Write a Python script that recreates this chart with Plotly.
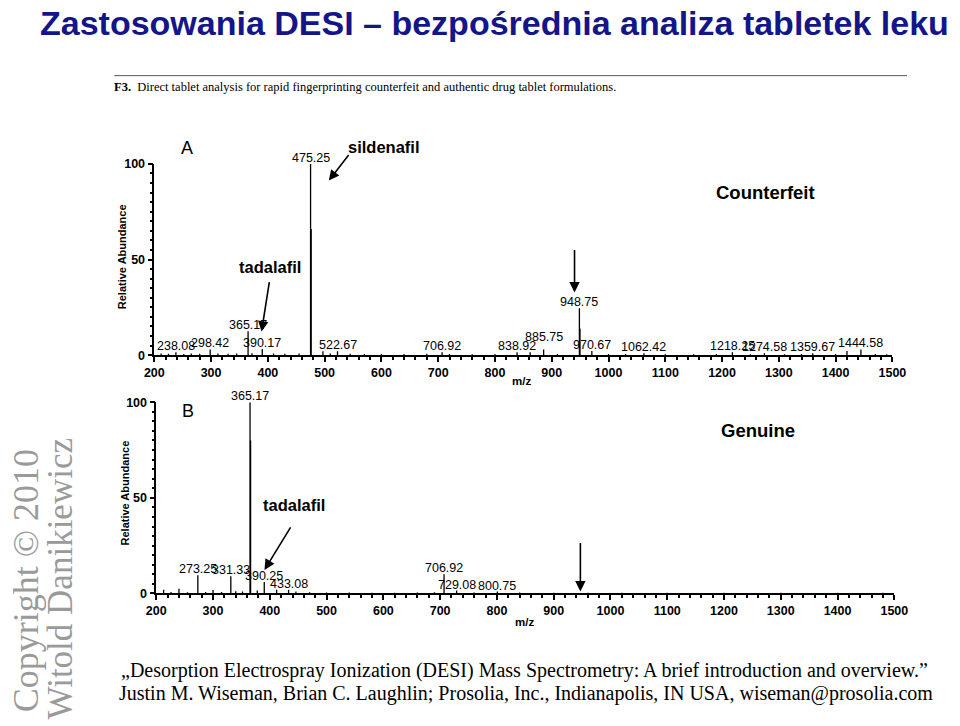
import plotly.graph_objects as go

# ---------------- data ----------------
# Panel A (Counterfeit) stick spectrum: m/z, relative abundance
mz_a = [212, 225, 238.08, 252, 265, 280, 298.42, 312, 330, 345, 365.17, 372, 390.17, 410, 430,
        455, 475.25, 476.25, 497.0, 510, 522.67, 545, 570, 600, 640, 680, 706.92, 720, 760, 800,
        838.92, 862.0, 885.75, 910, 948.75, 949.75, 970.67, 1000, 1030, 1062.42, 1100, 1150,
        1190, 1218.25, 1250, 1274.58, 1310, 1340, 1359.67, 1400, 1420.0, 1444.58, 1470, 1490]
int_a = [0.8, 0.7, 1.5, 0.6, 0.8, 0.7, 3.0, 0.8, 0.7, 0.9, 12.5, 1.0, 3.2, 0.8, 0.7,
         0.9, 100, 66, 2.0, 0.8, 2.0, 0.7, 0.6, 0.6, 0.6, 0.7, 1.5, 0.6, 0.5, 0.6,
         1.5, 1.5, 3.0, 0.6, 24.5, 14, 2.2, 0.6, 0.6, 1.0, 0.5, 0.5,
         0.6, 1.5, 0.5, 1.0, 0.5, 0.6, 1.0, 0.6, 2.2, 3.0, 0.6, 0.5]
lab_a = ["238.08", "298.42", "365.17", "390.17", "475.25", "522.67", "706.92", "838.92",
         "885.75", "948.75", "970.67", "1062.42", "1218.25", "1274.58", "1359.67", "1444.58"]

# Panel B (Genuine) stick spectrum
mz_b = [213, 226, 240, 255, 273.25, 287, 300, 315, 331.33, 340, 352, 365.17, 366.17, 378,
        390.25, 412, 433.08, 446, 470, 500, 540, 580, 620, 660, 690, 706.92, 729.08, 760,
        800.75, 840, 900, 960, 1020, 1100, 1200, 1300, 1400, 1480]
int_b = [2.0, 0.8, 2.5, 0.7, 9.5, 0.8, 1.8, 0.8, 9.0, 1.2, 1.0, 100, 80, 1.5,
         6.0, 2.0, 2.0, 1.0, 0.6, 0.5, 0.5, 0.4, 0.4, 0.5, 0.6, 10.0, 1.5, 0.5,
         1.0, 0.5, 0.4, 0.4, 0.4, 0.4, 0.4, 0.4, 0.4, 0.4]
lab_b = ["273.25", "331.33", "365.17", "390.25", "433.08", "706.92", "729.08", "800.75"]

x_ticks = list(range(200, 1501, 100))
y_ticks = [0, 50, 100]

# ---------------- helpers ----------------
W, H = 960, 726
def px(x):
    return x / W
def py(y):
    return 1 - y / H

SANS = "Arial, Liberation Sans, sans-serif"
SERIF = "Times New Roman, Liberation Serif, serif"

# extra vertical offsets (px) for a few labels, as in the original layout
label_shift = {"885.75": 6}

def sticks(mz, inten):
    xs, ys = [], []
    for m, v in zip(mz, inten):
        xs += [m, m, None]
        ys += [0, v, None]
    return xs, ys

fig = go.Figure()
xa, ya = sticks(mz_a, int_a)
xb, yb = sticks(mz_b, int_b)
fig.add_trace(go.Scatter(x=xa, y=ya, mode="lines", line=dict(color="black", width=1.3),
                         xaxis="x", yaxis="y", showlegend=False, hoverinfo="skip"))
fig.add_trace(go.Scatter(x=xb, y=yb, mode="lines", line=dict(color="black", width=1.3),
                         xaxis="x2", yaxis="y2", showlegend=False, hoverinfo="skip"))

def xaxis_style(domain, anchor):
    return dict(domain=domain, anchor=anchor, range=[200, 1500], showline=True,
                linecolor="black", linewidth=2, ticks="outside", ticklen=5, tickwidth=1.5,
                tickcolor="black", tickvals=x_ticks, showgrid=False, zeroline=False,
                tickfont=dict(family=SANS, size=12.5, color="black", weight="bold"),
                minor=dict(dtick=20, ticks="outside", ticklen=3, tickcolor="black"))

def yaxis_style(domain, anchor):
    return dict(domain=domain, anchor=anchor, range=[0, 100], showline=True,
                linecolor="black", linewidth=1.5, ticks="outside", ticklen=5, tickwidth=1.5,
                tickcolor="black", tickvals=y_ticks, showgrid=False, zeroline=False,
                tickfont=dict(family=SANS, size=12.5, color="black", weight="bold"),
                minor=dict(dtick=5, ticks="outside", ticklen=3, tickcolor="black"))

fig.update_layout(
    width=W, height=H, margin=dict(l=0, r=0, t=0, b=0),
    paper_bgcolor="white", plot_bgcolor="white", showlegend=False,
    xaxis=xaxis_style([px(148), px(905)], "y"),
    yaxis=yaxis_style([py(355), py(160)], "x"),
    xaxis2=xaxis_style([px(150), px(907)], "y2"),
    yaxis2=yaxis_style([py(598), py(403)], "x2"),
)

ann = []
def peak_labels(mz, inten, labels, xr, yr):
    lookup = {f"{m:.2f}": v for m, v in zip(mz, inten)}
    for lab in labels:
        v = lookup[lab]
        ann.append(dict(x=float(lab), y=v, xref=xr, yref=yr, text=lab, showarrow=False,
                        yanchor="bottom", xanchor="center", yshift=-3 + label_shift.get(lab, 0),
                        font=dict(family=SANS, size=12.5, color="black")))

peak_labels(mz_a, int_a, lab_a, "x", "y")
peak_labels(mz_b, int_b, lab_b, "x2", "y2")

def ptext(x, y, text, size, bold=False, color="black", family=SANS, xanchor="center", angle=0):
    ann.append(dict(x=px(x), y=py(y), xref="paper", yref="paper", text=text, showarrow=False,
                    xanchor=xanchor, yanchor="middle", textangle=angle,
                    font=dict(family=family, size=size, color=color,
                              weight="bold" if bold else "normal")))

def parrow(x0, y0, x1, y1, w=1.6):
    # tail (x0,y0) -> head (x1,y1), in pixels
    ann.append(dict(x=px(x1), y=py(y1), xref="paper", yref="paper", text="", showarrow=True,
                    ax=x0 - x1, ay=y0 - y1, axref="pixel", ayref="pixel",
                    arrowhead=2, arrowsize=1.3, arrowwidth=w, arrowcolor="black"))

# title & caption
ptext(497, 16, "Zastosowania DESI \u2013 bezpo\u015brednia analiza tabletek leku", 34, True,
      color="#15158a", family=SANS)
ptext(105, 82, "<b>F3.</b>  Direct tablet analysis for rapid fingerprinting counterfeit and authentic drug tablet formulations.",
      12.5, False, family=SERIF, xanchor="left")

# panel A texts
ptext(182, 144, "A", 18)
ptext(384, 143, "sildenafil", 16.5, True)
ptext(267, 265, "tadalafil", 16.5, True)
ptext(775, 189, "Counterfeit", 18.5, True)
ptext(115, 255, "Relative Abundance", 11, True, angle=-90)
ptext(525, 381, "m/z", 11.5, True)
parrow(348, 150, 327, 177)
parrow(266, 280, 258, 331)
parrow(579, 247, 579, 291)

# panel B texts
ptext(183, 412, "B", 18)
ptext(291, 508, "tadalafil", 16.5, True)
ptext(767, 432, "Genuine", 18.5, True)
ptext(118, 496, "Relative Abundance", 11, True, angle=-90)
ptext(528, 627, "m/z", 11.5, True)
parrow(288, 530, 261, 574)
parrow(585, 546, 585, 596)

# citation
ptext(112, 677, "\u201eDesorption Electrospray Ionization (DESI) Mass Spectrometry: A brief introduction and overview.\u201d",
      20, family=SERIF, xanchor="left")
ptext(110, 700, "Justin M. Wiseman, Brian C. Laughlin; Prosolia, Inc., Indianapolis, IN USA, wiseman@prosolia.com",
      20, family=SERIF, xanchor="left")

# watermark
ptext(16, 585, "Copyright \u00a9 2010", 36, color="#9a9a9a", family=SERIF, angle=-90)
ptext(52, 583, "Witold Danikiewicz", 35, color="#9a9a9a", family=SERIF, angle=-90)

fig.update_layout(annotations=ann,
                  shapes=[dict(type="line", xref="paper", yref="paper", x0=px(107), x1=px(920),
                               y0=py(70), y1=py(70), line=dict(color="#555555", width=1))])

fig.write_html("out.html")
